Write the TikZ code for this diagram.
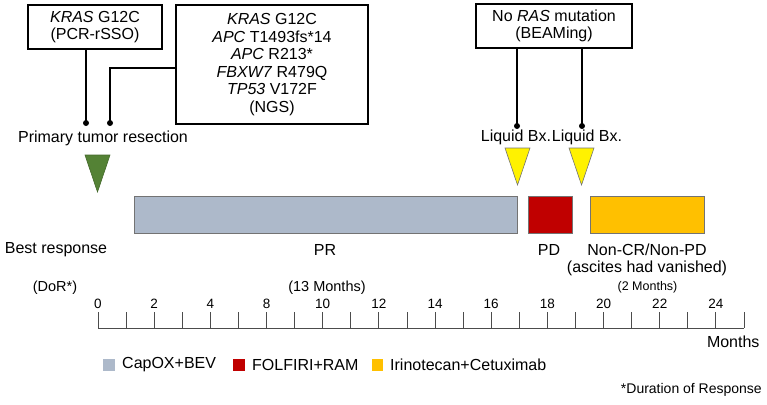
\documentclass[tikz,border=0pt]{standalone}
\usepackage{fontspec}
\setmainfont{Liberation Sans}
\definecolor{capox}{RGB}{173,185,202}
\definecolor{folfiri}{RGB}{192,0,0}
\definecolor{irino}{RGB}{255,192,0}
\definecolor{resect}{RGB}{84,130,53}
\begin{document}
\begin{tikzpicture}[x=1pt,y=-1pt,font=\fontsize{16}{17.5}\selectfont,
  mutbox/.style={draw,line width=1.6pt,align=center,inner sep=0pt},
  link/.style={line width=1.6pt},
  bar/.style={draw=black!55,line width=0.8pt},
  axis/.style={draw=black!70,line width=0.9pt},
  small/.style={font=\fontsize{14.5}{17}\selectfont},
  ticklab/.style={font=\fontsize{13.5}{16}\selectfont}]
\useasboundingbox (0,0) rectangle (767,404);
% mutation boxes
\node[mutbox,minimum width=134pt,minimum height=44pt] (pcr) at (95,27) {\textit{KRAS} G12C\\(PCR-rSSO)};
\node[mutbox,minimum width=192pt,minimum height=119pt] (ngs) at (272,64.5) {\textit{KRAS} G12C\\\textit{APC} T1493fs*14\\\textit{APC} R213*\\\textit{FBXW7} R479Q\\\textit{TP53} V172F\\(NGS)};
\node[mutbox,minimum width=156pt,minimum height=44pt] (beam) at (554,26) {No \textit{RAS} mutation\\(BEAMing)};
% connectors
\coordinate (d1) at (86,123);
\coordinate (d2) at (110,123);
\coordinate (d3) at (517,126);
\coordinate (d4) at (582,126);
\draw[link] (pcr.south -| d1) -- (d1);
\draw[link] ([yshift=-3.5pt]ngs.west) -| (d2);
\draw[link] (beam.south -| d3) -- (d3);
\draw[link] (beam.south -| d4) -- (d4);
\foreach \d in {d1,d2,d3,d4} \fill (\d) circle (3pt);
% events
\node (resection) at (103,138) {Primary tumor resection};
\node (lbx1) at (516,137) {Liquid Bx.};
\node (lbx2) at (587,137) {Liquid Bx.};
\filldraw[fill=resect,draw=resect!80!black,line width=0.6pt] (85,155) -- (110,155) -- (97.5,192) -- cycle;
\filldraw[fill=yellow,draw=black!55,line width=0.6pt] (505,148) -- (530,148) -- (517.5,185) -- cycle;
\filldraw[fill=yellow,draw=black!55,line width=0.6pt] (569,148) -- (594,148) -- (581.5,185) -- cycle;
% treatment bars
\draw[bar,fill=capox] (134,196) rectangle (517,233);
\draw[bar,fill=folfiri] (528,196) rectangle (572,233);
\draw[bar,fill=irino] (590,196) rectangle (704,233);
% responses
\node (best) at (56,250) {Best response};
\node (pr) at (325,250) {PR};
\node (pd) at (549,250) {PD};
\node (noncr) at (647,250) {Non-CR/Non-PD};
\node (ascites) at (647,268) {(ascites had vanished)};
\node[font=\fontsize{12.5}{15}\selectfont] (dor2) at (647.5,287) {(2 Months)};
\node[small] (dor) at (55,288) {(DoR*)};
\node[small] (dor13) at (327,288) {(13 Months)};
% time axis
\draw[axis] (98,328) -- (744,328);
\foreach \m in {0,...,23} \draw[axis] ({98+28.087*\m},312) -- ({98+28.087*\m},328);
\foreach \m/\v in {0/0,2/2,4/4,6/8,8/10,10/12,12/14,14/16,16/18,18/20,20/22,22/24}
  \node[ticklab] (t\m) at ({98+28.087*\m},304) {\v};
\node[anchor=east] (months) at (763,342) {Months};
% legend
\fill[capox] (103,359) rectangle (115,371);
\node[anchor=west,inner sep=0pt] (lcapox) at (122,365) {CapOX+BEV};
\fill[folfiri] (233,359) rectangle (245,371);
\node[anchor=west,inner sep=0pt] (lfolfiri) at (252,365) {FOLFIRI+RAM};
\fill[irino] (372,359) rectangle (383,371);
\node[anchor=west,inner sep=0pt] (lirino) at (390,365) {Irinotecan+Cetuximab};
\node[anchor=east,inner sep=0pt,font=\fontsize{14}{16}\selectfont] (note) at (762,390) {*Duration of Response};
\end{tikzpicture}
\end{document}
